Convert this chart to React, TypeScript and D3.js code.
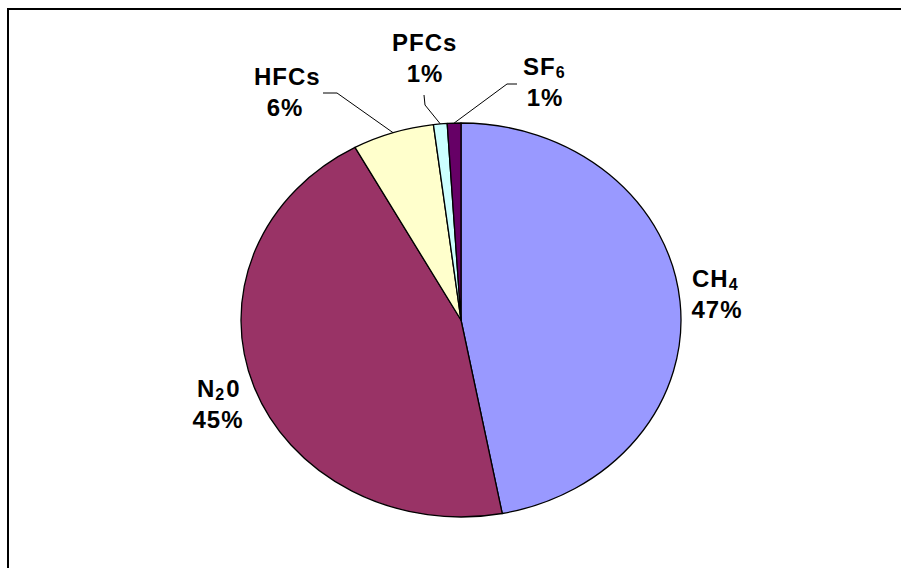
import React from "react";
import * as d3 from "d3";

// gas categories and their share of emissions (%)
const gases = ["CH4", "N20", "HFCs", "PFCs", "SF6"];
const shares = [47, 45, 6, 1, 1];
const colors = ["#9999FF", "#993366", "#FFFFCC", "#CCFFFF", "#660066"];

// label main text + subscript part
const labelMain = ["CH", "N", "HFCs", "PFCs", "SF"];
const labelSub = ["4", "2", "", "", "6"];
const labelTail = ["", "0", "", "", ""];

// label layout: x = start of first line, y = baseline of first line, px = x of percent centre
const labelLayout = [
  { x: 692, y: 287, px: 717 },
  { x: 197, y: 397, px: 218 },
  { x: 254, y: 85, px: 285 },
  { x: 392, y: 51, px: 425 },
  { x: 523, y: 75, px: 545 },
];
// leader elbows (label side), null = no leader line
const leaders: ([number, number][] | null)[] = [
  null,
  null,
  [[337, 93], [323, 93]],
  [[425, 105], [424, 95]],
  [[507, 84], [517, 84]],
];

const W = 901;
const H = 568;
const cx = 461;
const cy = 320;
const rx = 220;
const ry = 197;

export default function App() {
  const data = gases.map((g, i) => ({ gas: g, value: shares[i], i }));
  const pie = d3.pie<any>().sort(null).value((d) => d.value).startAngle(0).endAngle(2 * Math.PI);
  const arcs = pie(data);
  const arc = d3.arc<any>().innerRadius(0).outerRadius(rx);

  const edge = (a: number): [number, number] => [cx + rx * Math.sin(a), cy - ry * Math.cos(a)];
  const line = d3.line();

  return (
    <svg width={W} height={H} style={{ position: "absolute", left: 0, top: 0, background: "#fff" }}
      fontFamily="'Liberation Sans', Arial, sans-serif" fontWeight="bold">
      <rect x={8} y={9} width={W + 20} height={H + 20} fill="none" stroke="#000" strokeWidth={2} />
      <g transform={`translate(${cx},${cy}) scale(1,${ry / rx})`}>
        {arcs.map((a) => (
          <path key={a.data.gas} d={arc(a) as string} fill={colors[a.data.i]} stroke="#000"
            strokeWidth={1.3} vectorEffect="non-scaling-stroke" strokeLinejoin="round" />
        ))}
      </g>
      {arcs.map((a) => {
        const i = a.data.i;
        const pts = leaders[i];
        if (!pts) return null;
        const mid = (a.startAngle + a.endAngle) / 2;
        const p = [edge(mid), ...pts];
        return <path key={"l" + i} d={line(p) as string} fill="none" stroke="#000" strokeWidth={1} />;
      })}
      {arcs.map((a) => {
        const i = a.data.i;
        const L = labelLayout[i];
        return (
          <g key={"t" + i} fontSize={24} fill="#000" letterSpacing={1}>
            <text x={L.x} y={L.y}>
              {labelMain[i]}
              {labelSub[i] && (
                <tspan fontSize={16} dy={3}>{labelSub[i]}</tspan>
              )}
              {labelTail[i] && (
                <tspan dy={-3} dx={1}>{labelTail[i]}</tspan>
              )}
            </text>
            <text x={L.px} y={L.y + 31} textAnchor="middle">{`${a.data.value}%`}</text>
          </g>
        );
      })}
    </svg>
  );
}
